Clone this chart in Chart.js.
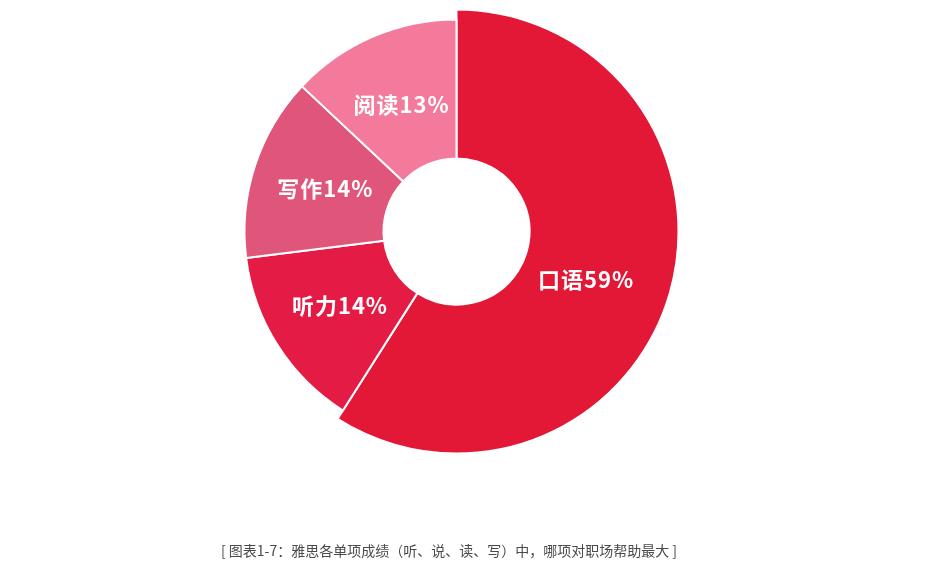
<!DOCTYPE html>
<html>
<head>
<meta charset="utf-8">
<script src="https://cdn.jsdelivr.net/npm/chart.js@4"></script>
<style>
html,body{margin:0;padding:0;background:#fff;}
#wrap{width:951px;height:570px;position:relative;}
</style>
</head>
<body>
<div id="wrap"><canvas id="c" width="951" height="570"></canvas></div>
<script>
const categories = ['口语', '听力', '写作', '阅读'];
const values = [59, 14, 14, 13];
const colors = ['#e21836', '#e31b45', '#e0567a', '#f47a9c'];
const caption = '[ 图表1-7：雅思各单项成绩（听、说、读、写）中，哪项对职场帮助最大 ]';

const enlargePlugin = {
  id: 'enlarge',
  afterDatasetsUpdate(chart) {
    const meta = chart.getDatasetMeta(0);
    const arc = meta.data[0];
    if (arc) arc.outerRadius = arc.outerRadius + 10;
  }
};

const labelPlugin = {
  id: 'sliceLabels',
  afterDatasetsDraw(chart) {
    const ctx = chart.ctx;
    const meta = chart.getDatasetMeta(0);
    const total = values.reduce((a, b) => a + b, 0);
    ctx.save();
    ctx.fillStyle = '#ffffff';
    ctx.font = 'bold 22px "Noto Sans CJK SC", "Noto Sans", sans-serif';
    try { ctx.letterSpacing = '1px'; } catch (e) {}
    ctx.textAlign = 'center';
    ctx.textBaseline = 'middle';
    meta.data.forEach((arc, i) => {
      const mid = (arc.startAngle + arc.endAngle) / 2 + (i === 0 ? 0.07 : 0);
      const r = 138;
      const x = arc.x + Math.cos(mid) * r;
      const y = arc.y + Math.sin(mid) * r;
      const pct = Math.round(values[i] / total * 100);
      ctx.fillText(categories[i] + pct + '%', x, y);
    });
    ctx.restore();
  }
};

const captionPlugin = {
  id: 'caption',
  afterDraw(chart) {
    const ctx = chart.ctx;
    ctx.save();
    ctx.fillStyle = '#4a4a4a';
    ctx.font = '14px "Noto Sans CJK SC", "Noto Sans", sans-serif';
    ctx.textAlign = 'center';
    ctx.textBaseline = 'middle';
    ctx.fillText(caption, 449, 551);
    ctx.restore();
  }
};

new Chart(document.getElementById('c'), {
  type: 'doughnut',
  data: {
    labels: categories,
    datasets: [{
      data: values,
      backgroundColor: colors,
      borderColor: '#ffffff',
      borderWidth: 2,
      hoverOffset: 0
    }]
  },
  options: {
    responsive: false,
    animation: false,
    cutout: 73,
    layout: { padding: { left: 243.5, right: 281.5, top: 18.5, bottom: 125.5 } },
    plugins: {
      legend: { display: false },
      tooltip: { enabled: false }
    }
  },
  plugins: [enlargePlugin, labelPlugin, captionPlugin]
});
</script>
</body>
</html>
